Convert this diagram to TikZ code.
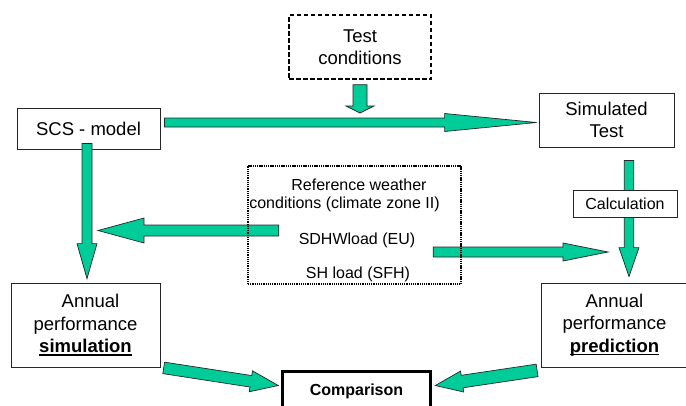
\documentclass[tikz,border=0pt]{standalone}
\usepackage{fontspec}
\setmainfont{Liberation Sans}
\usetikzlibrary{calc}
\definecolor{arrgreen}{RGB}{0,204,153}
\newcommand\myul[1]{\setbox0\hbox{#1}\rlap{\rule[-3pt]{\wd0}{1.3pt}}\box0}
% block arrow: start, end, shaft half width, head half width, head length
\newcommand\blockarrow[5]{%
\filldraw[blockarr] let \p1=(#1), \p2=(#2),
  \n1={atan2(\y2-\y1,\x2-\x1)}, \n2={veclen(\x2-\x1,\y2-\y1)-#5pt}, \n3={#4pt-#3pt} in
  (\p1) ++(\n1+90:#3pt) -- ++(\n1:\n2) -- ++(\n1+90:\n3) -- (\p2)
  -- ($(\p1)+(\n1:\n2)+(\n1-90:#4pt)$) -- ++(\n1+90:\n3)
  -- ($(\p1)+(\n1-90:#3pt)$) -- cycle;}
\begin{document}
\begin{tikzpicture}[x=1pt,y=-1pt,
 box/.style={draw=black!85, line width=0.8pt, fill=white, inner sep=0pt, align=center,
   font=\fontsize{18.5}{22.5}\selectfont},
 blockarr/.style={fill=arrgreen, draw=black!85, line width=0.7pt, line join=miter},
 smalltext/.style={inner sep=0pt, font=\fontsize{16}{18.5}\selectfont, anchor=base},
 refdots/.style={draw=black, line width=1.5pt, dash pattern=on 1.3pt off 0.9pt},
 testdash/.style={draw=black, line width=1.3pt, dash pattern=on 4.5pt off 2.5pt}]
\useasboundingbox (0,0) rectangle (686,405);

% boxes
\node[box, testdash, minimum width=142pt, minimum height=64pt] (test) at (360,47) {Test\\conditions};
\node[box, minimum width=143pt, minimum height=41pt] (scs) at (88.5,128.5) {SCS - model};
\node[box, minimum width=135pt, minimum height=54pt] (simtest) at (606.5,120) {Simulated\\Test};
\node[box, minimum width=149pt, minimum height=84pt] (annsim) at (85.5,325)
  {\hspace*{10pt}Annual\\performance\\\myul{\bfseries simulation}};
\node[box, minimum width=147pt, minimum height=84pt] (annpred) at (614.5,325)
  {Annual\\performance\\\myul{\bfseries prediction}};
\node[box, line width=3pt, draw=black, minimum width=148pt, minimum height=40pt,
  font=\bfseries\fontsize{16}{19}\selectfont] (comp) at (356.5,391.5) {Comparison};
\node[inner sep=0pt, minimum width=213pt, minimum height=118pt] (ref) at (354.5,225) {};

% free arrow ends
\coordinate (a1s) at ($(test.south)+(0,5)$);
\coordinate (a1e) at (360,113);
\coordinate (a2s) at ($(scs.east)+(4,-6)$);
\coordinate (a2e) at ($(simtest.west)+(-2,2.5)$);
\coordinate (a3s) at ($(scs.south)+(-1.5,-6)$);
\coordinate (a3e) at ($(annsim.north)+(1.5,-4)$);
\coordinate (a4s) at ($(ref.west)+(31,5.5)$);
\coordinate (a4e) at (98,230.5);
\coordinate (a5s) at ($(ref.east)+(-28,27)$);
\coordinate (a5e) at (608,252);
\coordinate (a6s) at ($(simtest.south)+(22.5,13)$);
\coordinate (a6e) at ($(annpred.north)+(14.5,-6)$);
\coordinate (a7s) at ($(annsim.south east)+(3.3,0.5)$);
\coordinate (a7e) at ($(comp.west)+(-2.7,-6)$);
\coordinate (a8s) at ($(annpred.south west)+(-3.5,3)$);
\coordinate (a8e) at ($(comp.east)+(3.4,-6)$);

% arrows
\blockarrow{a1s}{a1e}{7}{14}{7}
\blockarrow{a2s}{a2e}{4.5}{9}{92}
\blockarrow{a3s}{a3e}{5}{10}{35}
\blockarrow{a4s}{a4e}{5.5}{12.5}{46}
\blockarrow{a5s}{a5e}{5}{9}{45}
\blockarrow{a6s}{a6e}{4.7}{10}{29}
\blockarrow{a7s}{a7e}{5.8}{10.6}{27.7}
\blockarrow{a8s}{a8e}{6.3}{10.6}{27}

% reference box and its text
\draw[refdots] (ref.south west) rectangle (ref.north east);
\node[smalltext] (r1) at (359,190) {Reference weather};
\node[smalltext] (r2) at (344.5,208.5) {conditions (climate zone II)};
\node[smalltext] (r3) at (357,244) {SDHWload (EU)};
\node[smalltext] (r4) at (358,278) {SH load (SFH)};

% calculation box over the arrow
\node[box, font=\fontsize{16}{18.5}\selectfont, minimum width=104pt, minimum height=27pt] (calc) at (625,203.5) {Calculation};
\end{tikzpicture}
\end{document}
